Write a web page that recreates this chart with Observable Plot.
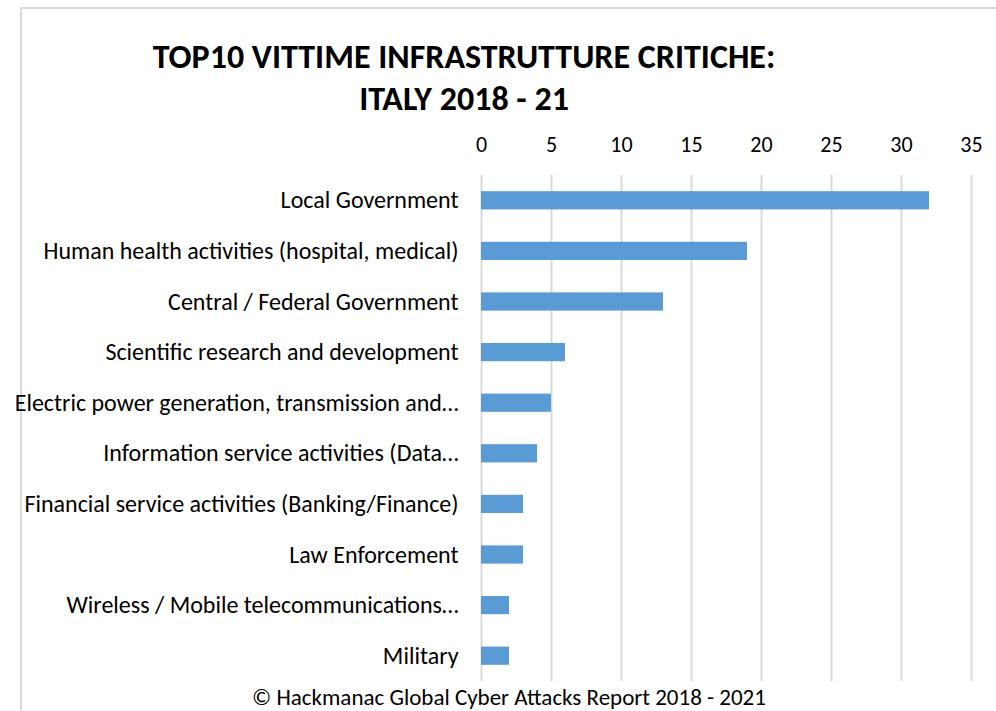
<!DOCTYPE html>
<html>
<head>
<meta charset="utf-8">
<script src="https://cdn.jsdelivr.net/npm/d3@7"></script>
<script src="https://cdn.jsdelivr.net/npm/@observablehq/plot@0.6"></script>
<style>
  html, body { margin: 0; padding: 0; background: #fff; }
  #page { position: relative; width: 996px; height: 711px; overflow: hidden;
          font-family: Carlito, "Liberation Sans Narrow", "Open Sans", sans-serif; color: #000; }
  #frame { position: absolute; left: 20px; top: 7px; width: 1000px; height: 720px;
           border-left: 2px solid #d9d9d9; border-top: 2px solid #d9d9d9; }
  #title { position: absolute; left: 0; width: 928px; top: 36px; text-align: center;
           font-weight: bold; font-size: 34px; line-height: 42px; }
  #chart { position: absolute; left: 0; top: 120px; }
  #caption { position: absolute; left: 0; width: 1018px; top: 683px; text-align: center; font-size: 23px; }
</style>
</head>
<body>
<div id="page">
  <div id="frame"></div>
  <div id="title">TOP10 VITTIME INFRASTRUTTURE CRITICHE:<br>ITALY 2018 - 21</div>
  <div id="chart"></div>
  <div id="caption">© Hackmanac Global Cyber Attacks Report 2018 - 2021</div>
</div>
<script>
const categories = [
  "Local Government",
  "Human health activities (hospital, medical)",
  "Central / Federal Government",
  "Scientific research and development",
  "Electric power generation, transmission and…",
  "Information service activities (Data…",
  "Financial service activities (Banking/Finance)",
  "Law Enforcement",
  "Wireless / Mobile telecommunications…",
  "Military"
];
const values = [32, 19, 13, 6, 5, 4, 3, 3, 2, 2];
const xTicks = [0, 5, 10, 15, 20, 25, 30, 35];

const data = categories.map((c, i) => ({category: c, value: values[i]}));

const chart = Plot.plot({
  width: 996,
  height: 570,
  marginLeft: 481,
  marginRight: 25,
  marginTop: 55,
  marginBottom: 9,
  style: {fontFamily: 'Carlito, "Liberation Sans Narrow", "Open Sans", sans-serif', fontSize: "24px", color: "#000", background: "transparent"},
  x: {domain: [0, 35], ticks: xTicks, axis: "top", label: null, tickSize: 0, tickPadding: 24},
  y: {domain: categories, label: null, tickSize: 0, tickPadding: 23, paddingInner: 0.64, paddingOuter: 0.32, round: false},
  marks: [
    Plot.gridX(xTicks, {stroke: "#d9d9d9", strokeOpacity: 1, strokeWidth: 2}),
    Plot.barX(data, {x: "value", y: "category", fill: "#5b9bd5"})
  ]
});
chart.querySelectorAll("[aria-label='x-axis tick label'] text").forEach(t => t.style.fontSize = "22px");
document.getElementById("chart").appendChild(chart);
</script>
</body>
</html>
